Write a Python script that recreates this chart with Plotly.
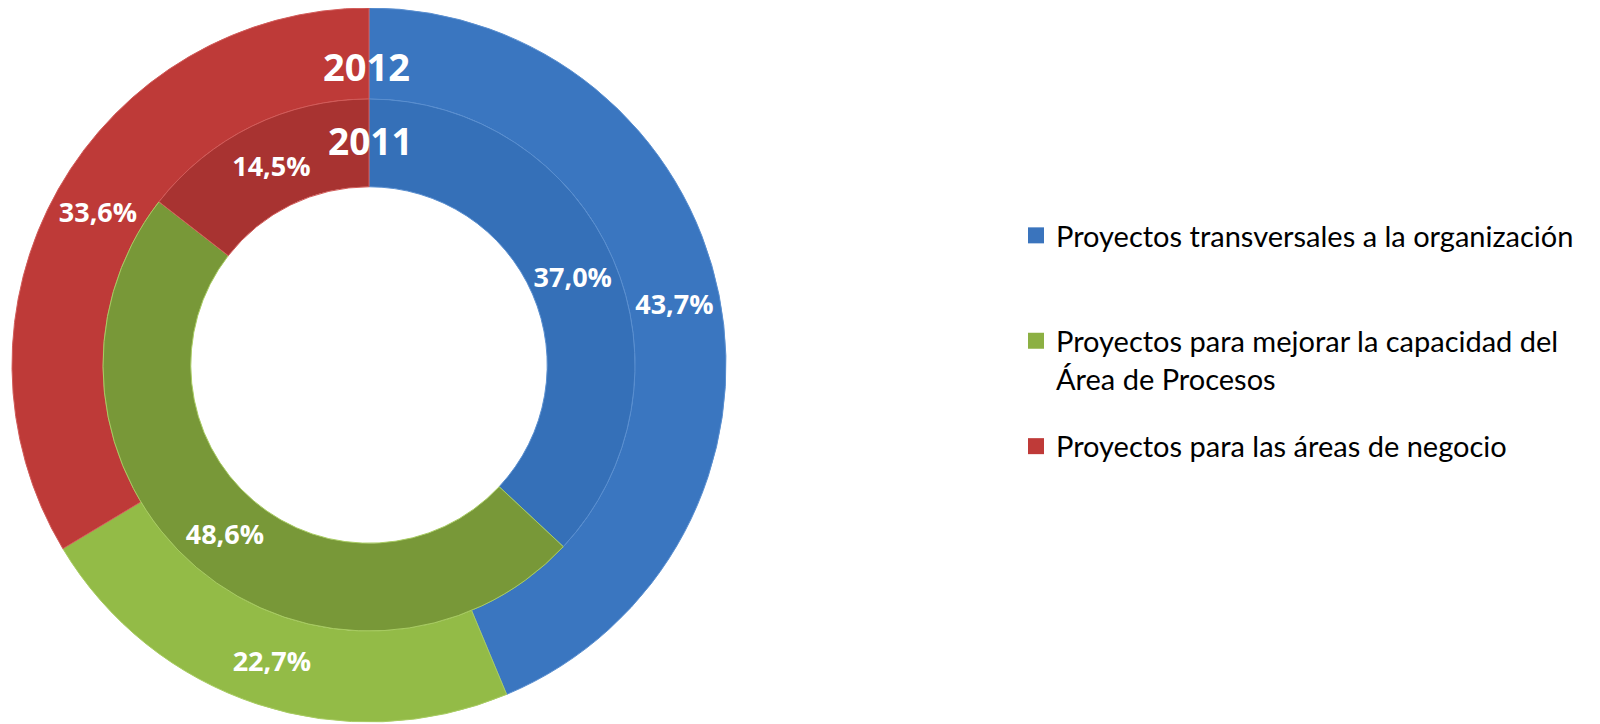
import plotly.graph_objects as go

categories = [
    "Proyectos transversales a la organización",
    "Proyectos para mejorar la capacidad del<br>Área de Procesos",
    "Proyectos para las áreas de negocio",
]
values_2012 = [43.7, 22.7, 33.6]
values_2011 = [37.0, 48.6, 14.5]
years = ["2012", "2011"]

outer_colors = ["#3a76c0", "#93bb47", "#be3a38"]
inner_colors = ["#3570b8", "#789838", "#a83331"]
edge_colors = ["#5a8fd0", "#a8cc62", "#d25c5a"]
legend_colors = ["#3a74bd", "#8cb043", "#bf3a38"]

W, H = 1600, 724
OFF = 8  # page body margin


def px_x(a, b):
    return [(a - OFF) / W, (b - OFF) / W]


def px_y(top, bottom):
    return [(H - (bottom - OFF)) / H, min(1, (H - (top - OFF)) / H)]


label_font = dict(family="Open Sans", size=27, color="white", weight="bold")

fig = go.Figure()

# outer ring (2012)
fig.add_trace(go.Pie(
    labels=categories,
    values=values_2012,
    sort=False,
    direction="clockwise",
    hole=0.745,
    domain=dict(x=px_x(12, 726), y=px_y(8, 722)),
    marker=dict(colors=outer_colors, line=dict(color=edge_colors, width=1)),
    texttemplate="%{value:.1f}%",
    textposition="inside",
    insidetextorientation="horizontal",
    textfont=label_font,
    showlegend=False,
    hoverinfo="value",
))

# inner ring (2011)
fig.add_trace(go.Pie(
    labels=categories,
    values=values_2011,
    sort=False,
    direction="clockwise",
    hole=0.67,
    domain=dict(x=px_x(103, 635), y=px_y(99, 631)),
    marker=dict(colors=inner_colors, line=dict(color=edge_colors, width=1)),
    texttemplate="%{value:.1f}%",
    textposition="inside",
    insidetextorientation="horizontal",
    textfont=label_font,
    showlegend=False,
    hoverinfo="value",
))

# legend-only entries, one group each so the rows can be spaced evenly
for i, (name, color) in enumerate(zip(categories, legend_colors)):
    if "<br>" not in name and i < len(categories) - 1:
        name = name + "<br> "
    fig.add_trace(go.Scatter(
        x=[None], y=[None], mode="markers", name=name,
        marker=dict(symbol="square", size=19, color=color),
        legendgroup=f"g{i}", showlegend=True, hoverinfo="skip",
    ))

# year labels at the top of each ring
fig.add_annotation(x=(366 - OFF) / W, y=1 - (66 - OFF) / H, xref="paper", yref="paper",
                   xanchor="center", yanchor="middle",
                   text=years[0], showarrow=False,
                   font=dict(family="Open Sans", size=38, color="white", weight="bold"))
fig.add_annotation(x=(370 - OFF) / W, y=1 - (141 - OFF) / H, xref="paper", yref="paper",
                   xanchor="center", yanchor="middle",
                   text=years[1], showarrow=False,
                   font=dict(family="Open Sans", size=37, color="white", weight="bold"))

fig.update_layout(
    width=W,
    height=H,
    separators=",.",
    paper_bgcolor="white",
    plot_bgcolor="white",
    margin=dict(l=0, r=0, t=0, b=0),
    xaxis=dict(visible=False),
    yaxis=dict(visible=False),
    legend=dict(
        x=1008 / W, y=1 - 202 / H, xanchor="left", yanchor="top",
        font=dict(family="Lato", size=29, color="black"),
        valign="top",
        traceorder="grouped",
        tracegroupgap=27,
        itemwidth=30,
    ),
)

fig.write_html("out.html")
